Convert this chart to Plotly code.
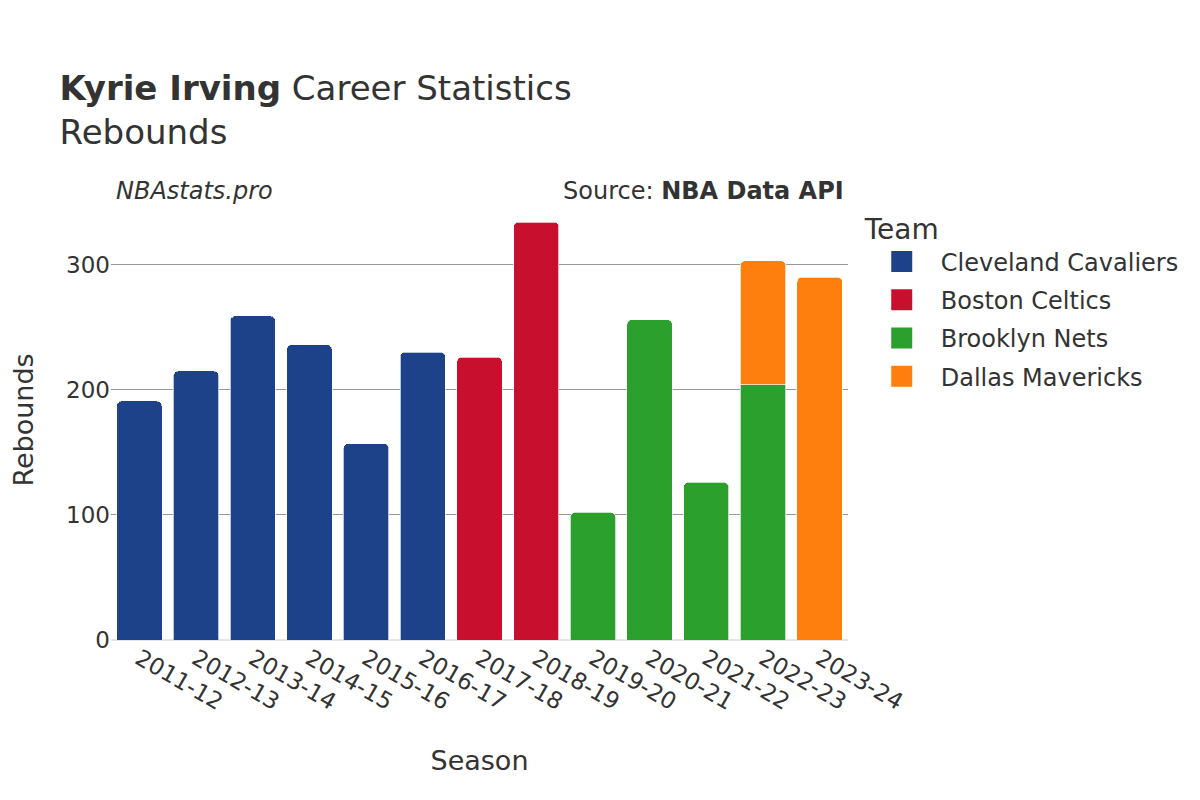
import plotly.graph_objects as go

seasons = ["2011-12", "2012-13", "2013-14", "2014-15", "2015-16", "2016-17", "2017-18",
           "2018-19", "2019-20", "2020-21", "2021-22", "2022-23", "2023-24"]
teams = ["Cleveland Cavaliers", "Boston Celtics", "Brooklyn Nets", "Dallas Mavericks"]
colors = ["#1d4289", "#c8102e", "#2ca02c", "#ff7f0e"]

cavaliers = [191, 215, 259, 236, 157, 230, None, None, None, None, None, None, None]
celtics = [None, None, None, None, None, None, 226, 334, None, None, None, None, None]
nets = [None, None, None, None, None, None, None, None, 102, 256, 126, 204, None]
mavericks = [None, None, None, None, None, None, None, None, None, None, None, 99, 290]
series = [cavaliers, celtics, nets, mavericks]

fig = go.Figure()
for name, vals, col in zip(teams, series, colors):
    fig.add_trace(go.Bar(
        x=seasons, y=vals, name=name, legendgroup=name, showlegend=False,
        marker=dict(color=col, line=dict(color="white", width=0.7)),
    ))
# legend entries (larger square symbols)
for name, col in zip(teams, colors):
    fig.add_trace(go.Scatter(
        x=[None], y=[None], name=name, legendgroup=name, mode="markers",
        marker=dict(symbol="square", size=16, color=col, line=dict(color=col, width=6)),
        hoverinfo="skip",
    ))

font_family = "DejaVu Sans"
fig.update_layout(
    width=1200, height=800,
    barmode="stack", bargap=0.2, barcornerradius=5,
    plot_bgcolor="white", paper_bgcolor="white",
    font=dict(family=font_family, color="#333333", size=23),
    title=dict(
        text="<b>Kyrie Irving</b> Career Statistics<br>Rebounds",
        x=0.043, xanchor="left", y=0.885, yanchor="top",
        font=dict(size=34, color="#333333"),
    ),
    margin=dict(l=97, r=360, t=192, b=168),
    xaxis=dict(
        type="category", range=[-0.5, len(seasons) - 0.5],
        title=dict(text="Season", font=dict(size=27), standoff=37),
        tickangle=30, tickfont=dict(size=23), showgrid=False,
    ),
    yaxis=dict(
        title=dict(text="Rebounds", font=dict(size=27), standoff=27),
        tickfont=dict(size=23), gridcolor="#999999", gridwidth=1,
        zeroline=True, zerolinecolor="#e5e5e5", zerolinewidth=2,
        dtick=100,
    ),
    legend=dict(
        title=dict(text="Team", font=dict(size=28)),
        traceorder="grouped", tracegroupgap=4,
        x=1.02, xanchor="left", y=0.993, yanchor="top",
        font=dict(size=24), itemsizing="trace", itemwidth=68,
    ),
    annotations=[
        dict(text="<i>NBAstats.pro</i>", xref="paper", yref="paper", x=0, y=1.02,
             xanchor="left", yanchor="middle", showarrow=False, font=dict(size=24), xshift=3),
        dict(text="Source: <b>NBA Data API</b>", xref="paper", yref="paper", x=1, y=1.02,
             xanchor="right", yanchor="middle", showarrow=False, font=dict(size=24), xshift=-2),
    ],
)

fig.write_html("out.html")
